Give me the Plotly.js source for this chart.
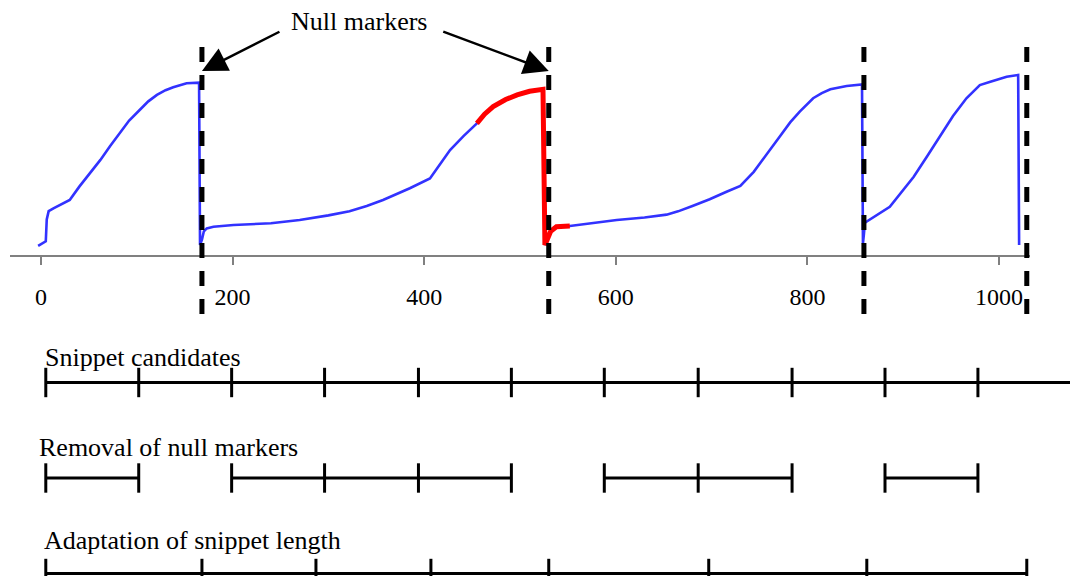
<!DOCTYPE html>
<html>
<head>
<meta charset="utf-8">
<script src="https://cdn.plot.ly/plotly-3.0.1.min.js"></script>
<style>html,body{margin:0;padding:0;background:#fff;}#chart{width:1070px;height:576px;}</style>
</head>
<body>
<div id="chart"></div>
<script>
// ---- data ----
const signalX = [-3, 2, 5, 6, 8, 13, 22, 30, 40, 50, 62, 72, 82, 92, 103, 112, 121, 130, 138, 152, 165, 166, 168, 170, 173, 180, 201, 240, 270, 300, 322, 340, 357, 385, 406, 416, 427, 441, 455, 463, 472, 485, 497, 510, 524, 526, 528, 532, 538, 552, 601, 630, 653, 665, 680, 698, 715, 730, 744, 760, 771, 782, 792, 806, 815, 824, 841, 857, 858, 859, 860, 886, 898, 911, 925, 938, 952, 966, 980, 991, 1008, 1020, 1021];
const signalY = [5.5, 6.9, 8, 20, 24.5, 26, 28.5, 30.6, 37.9, 44.5, 52.5, 60, 67, 74, 79.8, 84.5, 88, 90.6, 92.2, 94.4, 94.7, 6, 9, 13.5, 15.1, 16, 16.9, 17.9, 19.7, 22.2, 24.5, 27.3, 30.6, 37, 42.4, 50, 57.9, 65.5, 72.5, 77.5, 81.6, 85.5, 88, 90, 91.1, 6, 8.5, 13.5, 16, 16.4, 19.7, 21, 22.6, 24.4, 27.3, 31, 35, 38.3, 46, 57, 65.2, 73, 78.9, 86.2, 89, 91.1, 92.9, 93.8, 6.9, 12, 18.2, 26.9, 34.5, 43.3, 54.5, 65.2, 76.5, 86.2, 93.4, 95.2, 98, 98.9, 6];
const highlightX = [455, 463, 472, 485, 497, 510, 524, 526, 528, 532, 538, 552];
const highlightY = [72.5, 77.5, 81.6, 85.5, 88, 90, 91.1, 6, 8.5, 13.5, 16, 16.4];
const nullMarkers = [168, 530, 859, 1029];
const xTicks = [0, 200, 400, 600, 800, 1000];
const rowNames = ['Snippet candidates', 'Removal of null markers', 'Adaptation of snippet length'];
const candidateBounds = [5, 102, 199, 296, 394, 491, 588, 686, 784, 881, 978, 1076];
const removalSegments = [[5, 102], [199, 296, 394, 491], [588, 686, 784], [881, 978]];
const adaptationBounds = [5, 168, 287, 407, 530, 697, 862, 1029];

// ---- geometry helpers (pixel layout) ----
const W = 1070, H = 576;
const pxPerUnit = 0.958, x0px = 41;          // x = 0 at pixel 41
const toX = p => (p - x0px) / pxPerUnit;
const axisPy = 256, yPxPerUnit = 1.83;
const toY = p => (axisPy - p) / yPxPerUnit;

function withGaps(segs) {
  const xs = [];
  segs.forEach((s, i) => { if (i) xs.push(null); xs.push(...s); });
  return xs;
}

const rowStyle = {
  mode: 'lines+markers', xaxis: 'x2', yaxis: 'y2', showlegend: false, hoverinfo: 'skip',
  line: {color: '#000', width: 3},
  marker: {symbol: 'line-ns', size: 21, color: '#000', line: {color: '#000', width: 3}}
};
const remX = withGaps(removalSegments);

const traces = [
  {x: signalX, y: signalY, mode: 'lines', line: {color: 'rgb(50,50,255)', width: 2.6}, showlegend: false, hoverinfo: 'skip'},
  {x: highlightX, y: highlightY, mode: 'lines', line: {color: 'rgb(255,0,0)', width: 5}, showlegend: false, hoverinfo: 'skip'},
  Object.assign({}, rowStyle, {x: candidateBounds, y: candidateBounds.map(() => rowNames[0])}),
  Object.assign({}, rowStyle, {x: remX, y: remX.map(v => v === null ? null : rowNames[1])}),
  Object.assign({}, rowStyle, {x: adaptationBounds, y: adaptationBounds.map(() => rowNames[2])})
];

const serif = 'Liberation Serif, Times New Roman, serif';
const shapes = nullMarkers.map(m => ({
  type: 'line', xref: 'x', yref: 'y domain', x0: m, x1: m, y0: 1, y1: 0,
  line: {color: '#000', width: 5, dash: '15px,13px'}, layer: 'above'
}));

const rowLabelPos = [[43, 357], [37, 447], [42, 540]];
const annotations = [
  {xref: 'paper', yref: 'paper', x: 359 / W, y: 1 - 21 / H, text: 'Null markers', showarrow: false,
   xanchor: 'center', yanchor: 'middle', font: {family: serif, size: 26, color: '#000'}},
  {xref: 'x', yref: 'y domain', x: nullMarkers[0], y: (320 - 71) / (320 - 47), text: '', showarrow: true,
   ax: 79, ay: -40, arrowhead: 2, arrowsize: 2, arrowwidth: 2.5, arrowcolor: '#000', standoff: 0},
  {xref: 'x', yref: 'y domain', x: nullMarkers[1], y: (320 - 71) / (320 - 47), text: '', showarrow: true,
   ax: -107, ay: -40, arrowhead: 2, arrowsize: 2, arrowwidth: 2.5, arrowcolor: '#000', standoff: 0}
].concat(rowNames.map((n, i) => ({
  xref: 'paper', yref: 'paper', x: rowLabelPos[i][0] / W, y: 1 - rowLabelPos[i][1] / H,
  text: n, showarrow: false, xanchor: 'left', yanchor: 'middle',
  font: {family: serif, size: 26, color: '#000'}
})));

const rowK = 95.5; // px per row
const layout = {
  width: W, height: H, margin: {l: 0, r: 0, t: 0, b: 0},
  paper_bgcolor: '#fff', plot_bgcolor: 'rgba(0,0,0,0)',
  showlegend: false,
  xaxis: {domain: [10 / W, 1030 / W], range: [toX(10), toX(1030)], anchor: 'free', position: 1 - axisPy / H,
          showline: true, linecolor: '#808080', linewidth: 2, ticks: 'outside', ticklen: 8, tickwidth: 2,
          tickcolor: '#808080', tickvals: xTicks, showgrid: false, zeroline: false,
          tickfont: {family: serif, size: 24, color: '#000'}, ticklabelstandoff: 11},
  yaxis: {domain: [1 - 320 / H, 1 - 47 / H], range: [toY(320), toY(47)], visible: false,
          showgrid: false, zeroline: false, anchor: 'x'},
  xaxis2: {domain: [10 / W, 1], range: [toX(10), toX(1070)], anchor: 'y2', visible: false, showgrid: false, zeroline: false},
  yaxis2: {domain: [0, 1 - 340 / H], type: 'category', categoryorder: 'array',
           categoryarray: rowNames.slice().reverse(),
           range: [-(576 - 573.5) / rowK, (573.5 - 340) / rowK], visible: false, anchor: 'x2'},
  shapes: shapes,
  annotations: annotations
};

Plotly.newPlot('chart', traces, layout, {staticPlot: true, displayModeBar: false});
</script>
</body>
</html>
